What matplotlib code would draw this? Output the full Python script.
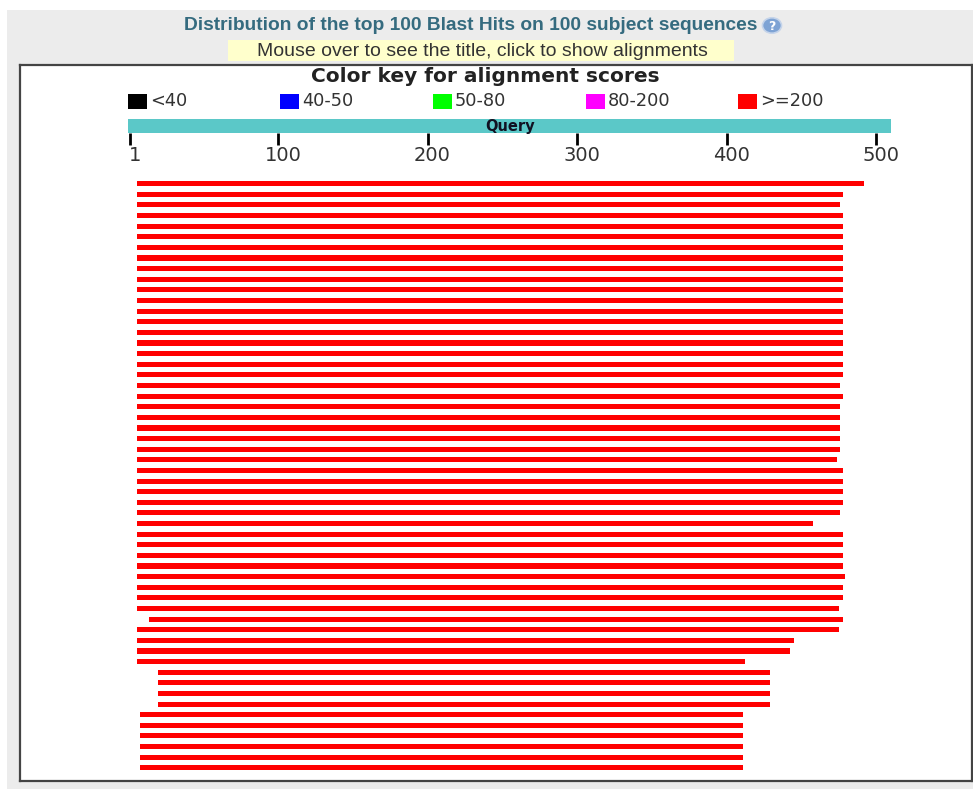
import matplotlib
matplotlib.use("Agg")
import matplotlib.pyplot as plt
from matplotlib.patches import Rectangle, Circle
from matplotlib.transforms import ScaledTranslation

# --- data -------------------------------------------------------------
title = "Distribution of the top 100 Blast Hits on 100 subject sequences"
hint = "Mouse over to see the title, click to show alignments"
key_title = "Color key for alignment scores"
key_labels = ["<40", "40-50", "50-80", "80-200", ">=200"]
key_colors = ["#000000", "#0000ff", "#00ff00", "#ff00ff", "#ff0000"]

query_len = 510
tick_vals = [1, 100, 200, 300, 400, 500]

# one row per subject hit, top to bottom (query coordinates)
hit_start = [7, 7, 7, 7, 7, 7, 7, 7, 7, 7,
             7, 7, 7, 7, 7, 7, 7, 7, 7, 7,
             7, 7, 7, 7, 7, 7, 7, 7, 7, 7,
             7, 7, 7, 7, 7, 7, 7, 7, 7, 7,
             7, 15, 7, 7, 7, 7, 21, 21, 21, 21,
             9, 9, 9, 9, 9, 9]
hit_end = [492, 478, 476, 478, 478, 478, 478, 478, 478, 478,
           478, 478, 478, 478, 478, 478, 478, 478, 478, 476,
           478, 476, 476, 476, 476, 476, 474, 478, 478, 478,
           478, 476, 458, 478, 478, 478, 478, 479, 478, 478,
           475, 478, 475, 445, 442, 412, 429, 429, 429, 429,
           411, 411, 411, 411, 411, 411]
hit_color = "#ff0000"   # every hit scores >=200

# --- layout (figure pixels) ------------------------------------------
W, H, DPI = 973, 789, 100
X0_PX, PX_PER = 128.3, 1.496      # where query position 0 sits, px per residue


def fbox(x0, y0, x1, y1):
    return [x0 / W, 1 - y1 / H, (x1 - x0) / W, (y1 - y0) / H]


def fx(x):
    return x / W


def fy(y):
    return 1 - y / H


fig = plt.figure(figsize=(W / DPI, H / DPI), dpi=DPI)
fig.patch.set_facecolor("white")

# grey page panel + yellow hint strip
fig.add_artist(Rectangle((fx(7), 0), 1 - fx(7), fy(10), transform=fig.transFigure,
                         facecolor="#ececec", edgecolor="none", zorder=0))
fig.add_artist(Rectangle((fx(228), fy(61)), fx(734) - fx(228), fy(40) - fy(61),
                         transform=fig.transFigure, facecolor="#ffffcc",
                         edgecolor="none", zorder=1))

fig.text(fx(471), fy(25), title, ha="center", va="center", fontsize=13.8,
         fontweight="bold", color="#356b7f", family="Liberation Sans")
fig.add_artist(Circle((fx(772), fy(25.5)), 9.5 / W, transform=fig.transFigure,
                      facecolor="#7ea3d4", edgecolor="#c5d4ea", lw=1.2, zorder=2))
fig.text(fx(772), fy(26), "?", ha="center", va="center", fontsize=9,
         fontweight="bold", color="white", zorder=3)
fig.text(fx(482), fy(51), hint, ha="center", va="center", fontsize=14,
         color="#333333", family="Liberation Sans", zorder=3)

# white framed box
ax_box = fig.add_axes(fbox(20, 65, 972, 781))
ax_box.set_facecolor("white")
ax_box.set_xticks([])
ax_box.set_yticks([])
for sp in ax_box.spines.values():
    sp.set_color("#444444")
    sp.set_linewidth(1.6)

fig.text(fx(485), fy(77), key_title, ha="center", va="center", fontsize=14.5,
         fontweight="bold", color="#222222", zorder=5)

key_x = [128, 280, 433, 586, 738]
for lx, lab, col in zip(key_x, key_labels, key_colors):
    fig.add_artist(Rectangle((fx(lx), fy(109)), 19 / W, 15 / H,
                             transform=fig.transFigure, facecolor=col,
                             edgecolor="none", zorder=5))
    fig.text(fx(lx + 22), fy(101.5), lab, ha="left", va="center",
             fontsize=12.8, color="#333333", zorder=5)

xlim = ((20 - X0_PX) / PX_PER, (972 - X0_PX) / PX_PER)

# query ruler
ax_q = fig.add_axes(fbox(20, 119, 972, 133.3))
ax_q.patch.set_visible(False)
ax_q.set_xlim(*xlim)
ax_q.set_ylim(0, 1)
ax_q.barh(0.5, query_len, left=0, height=1.0, color="#5bc8c8")
ax_q.text(query_len / 2, 0.5, "Query", ha="center", va="center", fontsize=10.5,
          fontweight="bold", color="#111122")
for sp in ax_q.spines.values():
    sp.set_visible(False)
ax_q.set_yticks([])
ax_q.set_xticks(tick_vals)
ax_q.set_xticklabels([str(t) for t in tick_vals])
ax_q.tick_params(axis="x", direction="out", length=8.6, width=2, color="black",
                 labelsize=14, labelcolor="#333333", pad=0.5)
for lab in ax_q.get_xticklabels():
    lab.set_transform(lab.get_transform() + ScaledTranslation(5 / DPI, 0, fig.dpi_scale_trans))

# hits
ax_h = fig.add_axes(fbox(20, 175, 972, 776))
ax_h.patch.set_visible(False)
rows = list(range(len(hit_start)))
lefts = [s - 1 for s in hit_start]
widths = [e - s + 1 for s, e in zip(hit_start, hit_end)]
ax_h.barh(rows, widths, left=lefts, height=0.48, color=hit_color)
ax_h.set_xlim(*xlim)
ax_h.set_ylim((776 - 183.7) / 10.62, (175 - 183.7) / 10.62)
ax_h.axis("off")

fig.savefig("out.png", dpi=DPI)
